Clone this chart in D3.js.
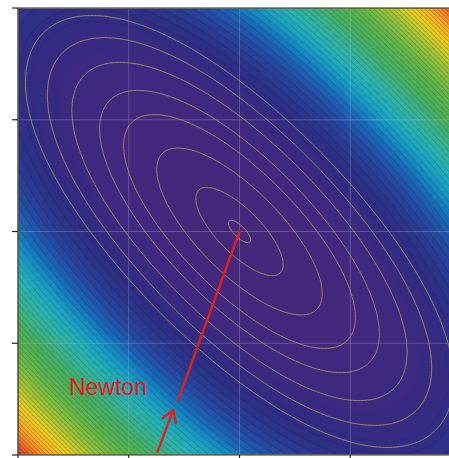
<!DOCTYPE html>
<html>
<head>
<meta charset="utf-8">
<script src="https://cdn.jsdelivr.net/npm/d3@7"></script>
<style>
  html, body { margin: 0; padding: 0; background: #ffffff; }
  svg { display: block; }
</style>
</head>
<body>
<svg id="chart" width="449" height="458"></svg>
<script>
// Objective: f(x, y) = a*(x+y)^2 + b*(x-y)^2 + c*(x-y)^4
const bowlQuadratic = [1.0, 0.14];  // weights of (x+y)^2 and (x-y)^2
const bowlQuartic = [0.002];         // weight of (x-y)^4

// Axis ticks (labels are outside the visible frame)
const xTicks = [-2, -1, 0, 1, 2];
const yTicks = [-2, -1, 0, 1, 2];

// Highlighted iso-lines of the objective
const lineLevels = [0.005, 0.077, 0.28, 0.56, 0.83, 1.22, 1.64, 2.08];

// Filled bands: step and top of the range
const fillStep = 0.28;
const fillTop = 16.0;

// Newton step and its annotation
const newtonPath = [[-0.555, -1.51], [0, 0]];
const arrowTail = [-0.74, -1.97];
const arrowTip = [-0.60, -1.60];
const labelPos = [-1.54, -1.463];
const labelText = "Newton";

// Colour ramp (position in [0,1] -> colour)
const rampStops = [0, 0.05, 0.09, 0.13, 0.165, 0.2, 0.235, 0.27, 0.30, 0.34, 0.39, 0.45, 0.51, 0.58, 0.65, 0.72, 0.78, 0.84, 0.90, 0.95, 1.0];
const rampColors = ["#46287a", "#422880", "#3a2a80", "#312c84", "#2c3488", "#283f96", "#2352a8", "#1a68b6", "#1584c0",
                    "#1ca2be", "#28b0b0", "#38b08c", "#4aae60", "#58b24c", "#7cba40", "#b0c432", "#e0c824", "#f2b224",
                    "#ee8a28", "#e45e2a", "#d4382a"];

const f = (x, y) => {
  const u = x + y, v = x - y;
  return bowlQuadratic[0] * u * u + bowlQuadratic[1] * v * v + bowlQuartic[0] * v * v * v * v;
};

const svg = d3.select("#chart");
const plotLeft = 18, plotRight = 461, plotTop = 8, plotBottom = 455;
const xScale = d3.scaleLinear().domain([-2, 2]).range([plotLeft, plotRight]);
const yScale = d3.scaleLinear().domain([-2, 2]).range([plotBottom, plotTop]);
const ramp = d3.scaleLinear().domain(rampStops).range(rampColors).clamp(true);

svg.append("defs").append("clipPath").attr("id", "plotClip")
  .append("rect").attr("x", plotLeft).attr("y", plotTop)
  .attr("width", plotRight - plotLeft).attr("height", plotBottom - plotTop);

const plot = svg.append("g").attr("clip-path", "url(#plotClip)");

// Sample the objective on a grid
const n = 320, m = 320;
const values = new Float64Array(n * m);
for (let j = 0; j < m; j++) {
  const y = 2 - (j + 0.5) * 4 / m;
  for (let i = 0; i < n; i++) {
    const x = -2 + (i + 0.5) * 4 / n;
    values[j * n + i] = f(x, y);
  }
}
const toScreen = d3.geoTransform({
  point(gx, gy) {
    this.stream.point(xScale(-2 + gx * 4 / n), yScale(2 - gy * 4 / m));
  }
});
const path = d3.geoPath(toScreen);

// Filled bands, edged with a darker shade of their own colour
const bandLevels = d3.range(0, fillTop + 2, fillStep);
const bands = d3.contours().size([n, m]).thresholds(bandLevels)(values);
const bandColor = d => ramp((d.value + fillStep / 2) / fillTop);
plot.append("g").selectAll("path").data(bands).join("path")
  .attr("d", path)
  .attr("fill", bandColor)
  .attr("stroke", d => d3.rgb(bandColor(d)).darker(0.8))
  .attr("stroke-opacity", d => Math.max(0, Math.min(1, (d.value / fillTop - 0.11) / 0.08)))
  .attr("stroke-width", 0.7);

// Grid
const grid = plot.append("g").attr("stroke", "#c8c8c8").attr("stroke-opacity", 0.35).attr("stroke-width", 0.8);
grid.selectAll(".gx").data(xTicks).join("line")
  .attr("x1", d => xScale(d)).attr("x2", d => xScale(d)).attr("y1", plotTop).attr("y2", plotBottom);
grid.selectAll(".gy").data(yTicks).join("line")
  .attr("y1", d => yScale(d)).attr("y2", d => yScale(d)).attr("x1", plotLeft).attr("x2", plotRight);

// Highlighted iso-lines
const isoLines = d3.contours().size([n, m]).thresholds(lineLevels)(values);
plot.append("g").selectAll("path").data(isoLines).join("path")
  .attr("d", path)
  .attr("fill", "none")
  .attr("stroke", "#b4a25a")
  .attr("stroke-opacity", 0.9)
  .attr("stroke-width", 0.9);

// Newton path
const line = d3.line().x(d => xScale(d[0])).y(d => yScale(d[1]));
plot.append("path").datum(newtonPath)
  .attr("d", line).attr("fill", "none")
  .attr("stroke", "#e0201c").attr("stroke-width", 2.4).attr("stroke-linecap", "round");

// Annotation arrow
const tipX = xScale(arrowTip[0]), tipY = yScale(arrowTip[1]);
const tailX = xScale(arrowTail[0]), tailY = yScale(arrowTail[1]);
const ang = Math.atan2(tailY - tipY, tailX - tipX);
const headLen = 13, headAng = 33 * Math.PI / 180;
const arrow = plot.append("g").attr("stroke", "#e0201c").attr("stroke-width", 2.4)
  .attr("fill", "none").attr("stroke-linecap", "round").attr("stroke-linejoin", "round");
arrow.append("line").attr("x1", tailX).attr("y1", tailY).attr("x2", tipX).attr("y2", tipY);
arrow.append("path").attr("d", d3.line()([
  [tipX + headLen * Math.cos(ang + headAng), tipY + headLen * Math.sin(ang + headAng)],
  [tipX, tipY],
  [tipX + headLen * Math.cos(ang - headAng), tipY + headLen * Math.sin(ang - headAng)]
]));

plot.append("text")
  .attr("x", xScale(labelPos[0])).attr("y", yScale(labelPos[1]))
  .attr("font-family", "Liberation Sans, Arial, sans-serif")
  .attr("font-size", 23)
  .attr("fill", "#f01414")
  .text(labelText);

// Frame and ticks
const axes = svg.append("g").attr("stroke", "#262626").attr("stroke-width", 1.2);
axes.append("line").attr("x1", plotLeft).attr("x2", plotLeft).attr("y1", plotTop).attr("y2", plotBottom);
axes.append("line").attr("x1", plotLeft).attr("x2", plotRight).attr("y1", plotBottom).attr("y2", plotBottom);
axes.append("line").attr("x1", plotLeft).attr("x2", plotRight).attr("y1", plotTop).attr("y2", plotTop);
axes.append("line").attr("x1", plotRight).attr("x2", plotRight).attr("y1", plotTop).attr("y2", plotBottom);
axes.selectAll(".ty").data(yTicks).join("line")
  .attr("x1", plotLeft - 6).attr("x2", plotLeft).attr("y1", d => yScale(d)).attr("y2", d => yScale(d));
axes.selectAll(".tx").data(xTicks).join("line")
  .attr("y1", plotBottom).attr("y2", plotBottom + 6).attr("x1", d => xScale(d)).attr("x2", d => xScale(d));
</script>
</body>
</html>
